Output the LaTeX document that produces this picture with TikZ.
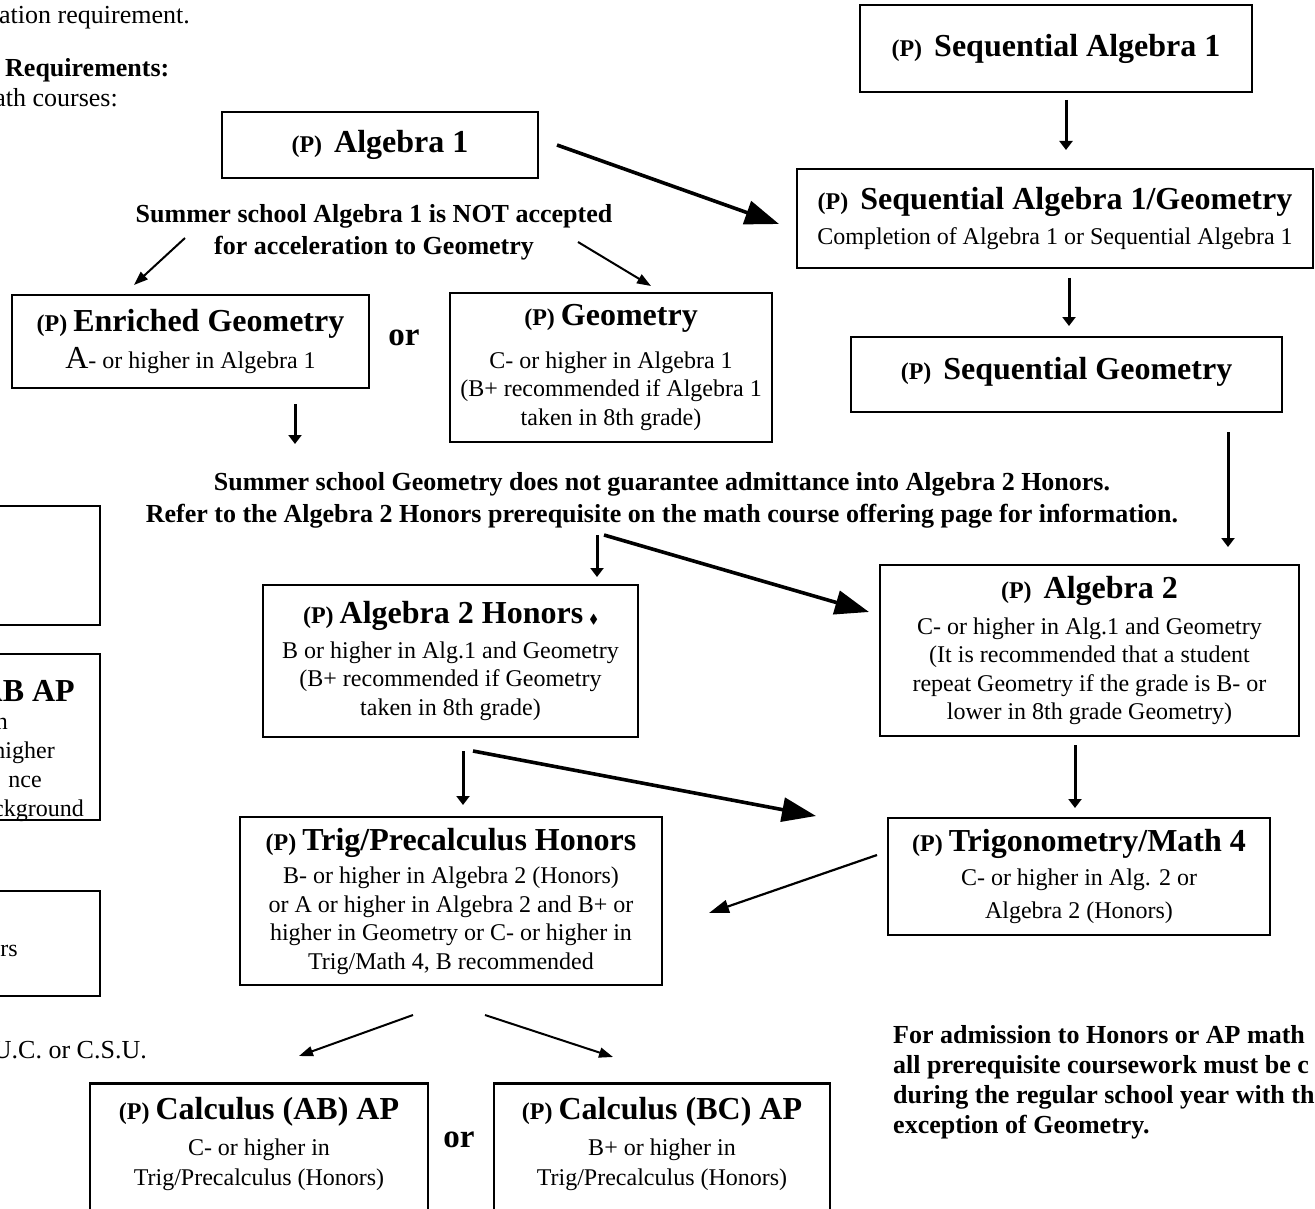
\documentclass[tikz,border=0pt]{standalone}
\usepackage{fontspec}
\setmainfont{Liberation Serif}
\usepackage{amssymb}
\usetikzlibrary{arrows.meta}

\newcommand\bodyf{\fontsize{24}{28.5}\selectfont}
\newcommand\ttlf{\fontsize{32}{36}\selectfont\bfseries}
\newcommand\pf{{\fontsize{24}{28}\selectfont\bfseries (P)}}
\newcommand\notef{\fontsize{26}{32}\selectfont\bfseries}
\newcommand\bigA{{\fontsize{32}{36}\selectfont A}}
\newcommand\dmd{{\fontsize{13}{13}\selectfont$\blacklozenge$}}

\begin{document}
\begin{tikzpicture}[x=1pt,y=-1pt,
  box/.style={draw, line width=2.6pt, inner sep=0pt, align=center, font=\bodyf},
  txt/.style={inner sep=0pt, align=center, font=\bodyf},
  bigarr/.style={line width=3.6pt, -{Triangle[length=34pt,width=24pt]}},
  varr/.style={line width=3pt, -{Triangle[length=9pt,width=13pt]}},
  tarr/.style={line width=2pt, -{Triangle[length=14pt,width=10pt]}},
]
\useasboundingbox (0,0) rectangle (1315,1209);
\clip (0,0) rectangle (1315,1209);

% ---- left, clipped text and boxes
\node[txt, anchor=base west] (t1) at (-1,24) {\fontsize{26}{30}\selectfont ation requirement.};
\node[txt, anchor=base west, font=\fontsize{26}{30}\selectfont\bfseries] (t2) at (5,77) {Requirements:};
\node[txt, anchor=base east] (t3) at (118,107) {\fontsize{26}{30}\selectfont ath courses:};

\draw[line width=2.6pt] (-60,506) rectangle (100,625);
\draw[line width=2.6pt] (-60,654) rectangle (100,820);
\draw[line width=2.6pt] (-60,891) rectangle (100,996);
\node[txt, anchor=base east, font=\ttlf] (l1) at (75,701) {AB AP};
\node[txt, anchor=base east] (l2) at (8,729) {n};
\node[txt, anchor=base east] (l3) at (55,758) {higher};
\node[txt, anchor=base east] (l4) at (42,787) {nce};
\node[txt, anchor=base east] (l5) at (84,816) {ckground};
\node[txt, anchor=base east] (l6) at (18,956) {rs};
\node[txt, anchor=base east] (uc) at (147,1058) {\fontsize{26}{30}\selectfont U.C. or C.S.U.};

% ---- boxes
\node[box, minimum width=316, minimum height=66] (alg1) at (380,145)
  {\pf\ \ {\ttlf Algebra 1}};
\node[box, minimum width=392, minimum height=87] (seq1) at (1056,48.5)
  {\pf\hspace{12pt}{\ttlf Sequential Algebra 1}};
\node[box, minimum width=516, minimum height=99] (seqag) at (1055,218.5)
  {\pf\hspace{12pt}{\ttlf Sequential Algebra 1/Geometry}\\[6pt]
   Completion of Algebra 1 or Sequential Algebra 1};
\node[box, minimum width=431, minimum height=75] (seqgeo) at (1066.5,374.5)
  {\pf\hspace{12pt}{\ttlf Sequential Geometry}\\[-24pt]\strut};
\node[box, minimum width=357, minimum height=93] (enr) at (190.5,341.5)
  {\pf\ {\ttlf Enriched Geometry}\\[9pt]
   \bigA- or higher in Algebra 1};
\node[box, minimum width=322, minimum height=149] (geo) at (611,367.5)
  {\pf\ {\ttlf Geometry}\\[14pt]
   C- or higher in Algebra 1\\
   (B+ recommended if Algebra 1\\
   taken in 8th grade)};
\node[box, minimum width=375, minimum height=152] (alg2h) at (450.5,661)
  {\pf\ {\ttlf Algebra 2 Honors} \dmd\\[6pt]
   B or higher in Alg.1 and Geometry\\
   (B+ recommended if Geometry\\
   taken in 8th grade)};
\node[box, minimum width=419, minimum height=171] (alg2) at (1089.5,650.5)
  {\pf\hspace{12pt}{\ttlf Algebra 2}\\[7pt]
   C- or higher in Alg.1 and Geometry\\
   (It is recommended that a student\\
   repeat Geometry if the grade is B- or\\
   lower in 8th grade Geometry)};
\node[box, minimum width=422, minimum height=168] (trigh) at (451,901)
  {\pf\ {\ttlf Trig/Precalculus Honors}\\[5pt]
   B- or higher in Algebra 2 (Honors)\\
   or A or higher in Algebra 2 and B+ or\\
   higher in Geometry or C- or higher in\\
   Trig/Math 4, B recommended};
\node[box, minimum width=382, minimum height=117] (trig4) at (1079,876.5)
  {\pf\ {\ttlf Trigonometry/Math 4}\\[5pt]
   C- or higher in Alg. 2 or\\[5pt]
   Algebra 2 (Honors)};
\node[box, anchor=north, minimum width=338, minimum height=200] (calcab) at (259,1082) {};
\node[txt, anchor=north] (calcabt) at (259,1097)
  {\pf\ {\ttlf Calculus (AB) AP}\\[8pt]
   C- or higher in\\[1pt]
   Trig/Precalculus (Honors)};
\node[box, anchor=north, minimum width=336, minimum height=200] (calcbc) at (662,1082) {};
\node[txt, anchor=north] (calcbct) at (662,1097)
  {\pf\ {\ttlf Calculus (BC) AP}\\[8pt]
   B+ or higher in\\[1pt]
   Trig/Precalculus (Honors)};

% ---- "or" labels and notes
\node[txt, font=\fontsize{33}{36}\selectfont\bfseries] (or1) at (404,338) {or};
\node[txt, font=\fontsize{33}{36}\selectfont\bfseries] (or2) at (459,1140) {or};
\node[txt, font=\notef] (note1) at (374,232)
  {Summer school Algebra 1 is NOT accepted\\ for acceleration to Geometry};
\node[txt, font=\notef] (note2) at (662,500)
  {Summer school Geometry does not guarantee admittance into Algebra 2 Honors.\\
   Refer to the Algebra 2 Honors prerequisite on the math course offering page for information.};
\node[txt, anchor=north west, align=left, font=\fontsize{26}{30}\selectfont\bfseries] (note3) at (893,1025)
  {For admission to Honors or AP math\\
   all prerequisite coursework must be c\\
   during the regular school year with th\\
   exception of Geometry.};

% ---- connector end points
\coordinate (a1) at (1066,100);   \coordinate (a1e) at (1066,150);
\coordinate (a2) at (1069,278);   \coordinate (a2e) at (1069,326);
\coordinate (a3) at (1228,432);   \coordinate (a3e) at (1228,547);
\coordinate (b1) at (557,145);    \coordinate (b1e) at (779,224);
\coordinate (c1) at (185,238);    \coordinate (c1e) at (134,285);
\coordinate (c2) at (578,242);    \coordinate (c2e) at (651,286);
\coordinate (d1) at (295,404);    \coordinate (d1e) at (295,444);
\coordinate (e1) at (597,535);    \coordinate (e1e) at (597,577);
\coordinate (e2) at (604,535);    \coordinate (e2e) at (869,612);
\coordinate (f1) at (463,751);    \coordinate (f1e) at (463,805);
\coordinate (f2) at (473,751);    \coordinate (f2e) at (816,816);
\coordinate (g1) at (1075,745);   \coordinate (g1e) at (1075,808);
\coordinate (h1) at (877,855);    \coordinate (h1e) at (709,913);
\coordinate (i1) at (413,1015);   \coordinate (i1e) at (299,1056);
\coordinate (i2) at (485,1015);   \coordinate (i2e) at (613,1057);

\draw[varr] (a1) -- (a1e);
\draw[varr] (a2) -- (a2e);
\draw[varr] (a3) -- (a3e);
\draw[bigarr] (b1) -- (b1e);
\draw[tarr] (c1) -- (c1e);
\draw[tarr] (c2) -- (c2e);
\draw[varr] (d1) -- (d1e);
\draw[varr] (e1) -- (e1e);
\draw[bigarr] (e2) -- (e2e);
\draw[varr] (f1) -- (f1e);
\draw[bigarr] (f2) -- (f2e);
\draw[varr] (g1) -- (g1e);
\draw[tarr, line width=2.2pt, -{Triangle[length=20pt,width=13pt]}] (h1) -- (h1e);
\draw[tarr] (i1) -- (i1e);
\draw[tarr] (i2) -- (i2e);
\end{tikzpicture}
\end{document}
